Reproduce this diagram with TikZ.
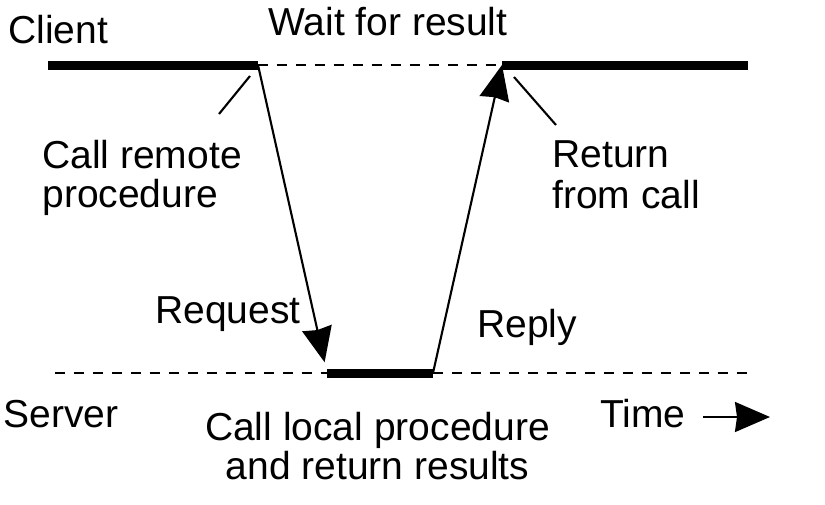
\documentclass[tikz,border=0pt]{standalone}
\usepackage{fontspec}
\setmainfont{Liberation Sans}
\usetikzlibrary{arrows.meta}
\tikzset{
  txt/.style={inner sep=0pt, font=\fontsize{22.2}{22.5}\selectfont},
  busy/.style={line width=0.18cm},
  idle/.style={line width=1pt, dash pattern=on 0.2cm off 0.18cm},
  msg/.style={line width=1.2pt, -{Stealth[length=0.7cm, width=0.6cm, inset=0.04cm]}},
  hint/.style={line width=1.2pt}
}
\begin{document}
\begin{tikzpicture}[x=0.02cm, y=-0.02cm]
\useasboundingbox (0,0) rectangle (825,504);
\coordinate (c0) at (48,65);
\coordinate (c1) at (258,65);
\coordinate (c2) at (502,65);
\coordinate (c3) at (748,65);
\coordinate (s0) at (55,373);
\coordinate (s1) at (327,373);
\coordinate (s2) at (433,373);
\coordinate (s3) at (748,373);
\node[txt, anchor=base west](client) at (8,43){Client};
\node[txt, anchor=base west](wait) at (268,35){Wait for result};
\node[txt, anchor=base west](callrem) at (42,168){Call remote};
\node[txt, anchor=base west](callrem2) at (42,207){procedure};
\node[txt, anchor=base west](ret) at (552,167){Return};
\node[txt, anchor=base west](ret2) at (552,208){from call};
\node[txt, anchor=base west](request) at (155,323){Request};
\node[txt, anchor=base west](reply) at (477,337){Reply};
\node[txt, anchor=base west](server) at (3,427){Server};
\node[txt, anchor=base](local) at (377.5,440){Call local procedure};
\node[txt, anchor=base](local2) at (377.5,479){and return results};
\node[txt, anchor=base west](time) at (600,427){Time};
\coordinate (t0) at (703,417);
\coordinate (t1) at (770,417);
\coordinate (p0) at (250,76);
\coordinate (p1) at (219,114);
\coordinate (q0) at (514,77);
\coordinate (q1) at (556,125);
\draw[busy] (c0) -- (c1);
\draw[idle] (c1) -- (c2);
\draw[busy] (c2) -- (c3);
\draw[idle] (s0) -- (s1);
\draw[busy] (s1) -- (s2);
\draw[idle] (s2) -- (s3);
\draw[msg, shorten >=0.22cm] (c1) -- (s1);
\draw[msg] (s2) -- (c2);
\draw[msg] (t0) -- (t1);
\draw[hint] (p0) -- (p1);
\draw[hint] (q0) -- (q1);
\end{tikzpicture}
\end{document}
